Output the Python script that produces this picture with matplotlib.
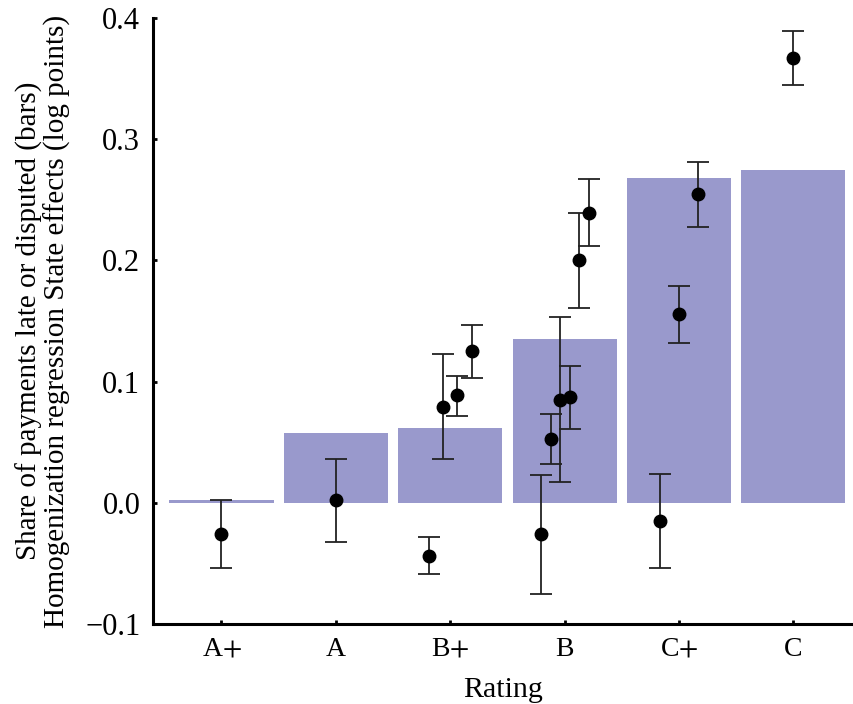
import matplotlib
matplotlib.use("Agg")
import matplotlib.pyplot as plt
import numpy as np

plt.rcParams['font.family'] = ['Liberation Serif', 'DejaVu Serif']
plt.rcParams['mathtext.fontset'] = 'stix'

ratings = ['A+', 'A', 'B+', 'B', 'C+', 'C']
bar_share = [0.002, 0.058, 0.062, 0.135, 0.268, 0.275]

# state effects: category index, offset within category, estimate, lower, upper
pt_cat = [0, 1, 2, 2, 2, 2, 3, 3, 3, 3, 3, 3, 4, 4, 4, 5]
pt_off = [0.0, 0.0,
          -0.19, -0.064, 0.061, 0.186,
          -0.207, -0.122, -0.041, 0.046, 0.128, 0.212,
          -0.166, 0.0, 0.166,
          0.0]
pt_est = [-0.026, 0.002,
          -0.044, 0.079, 0.089, 0.125,
          -0.026, 0.053, 0.085, 0.087, 0.200, 0.239,
          -0.015, 0.156, 0.2545,
          0.367]
pt_lo = [-0.054, -0.032,
         -0.059, 0.036, 0.072, 0.103,
         -0.075, 0.032, 0.017, 0.061, 0.161, 0.212,
         -0.054, 0.132, 0.2275,
         0.345]
pt_hi = [0.002, 0.036,
         -0.028, 0.123, 0.105, 0.147,
         0.023, 0.073, 0.153, 0.113, 0.239, 0.267,
         0.024, 0.179, 0.2816,
         0.389]

fig = plt.figure(figsize=(8.54, 7.04), dpi=100)
ax = fig.add_axes([0.179, 0.1136, 0.821, 0.8608])

xpos = np.arange(len(ratings))
ax.bar(xpos, bar_share, width=0.91, color='#9999cc', zorder=1)

px = np.array(pt_cat) + np.array(pt_off)
est = np.array(pt_est)
yerr = [est - np.array(pt_lo), np.array(pt_hi) - est]
ax.errorbar(px, est, yerr=yerr, fmt='o', color='black', ecolor='#222222',
            markersize=9, elinewidth=1.3, capsize=8, capthick=1.3, zorder=3)

ax.set_xlim(-0.6, 5.53)
ax.set_ylim(-0.1, 0.4)
ax.set_xticks(xpos)
# stix plus sign looks closer to the original than the text one
ax.set_xticklabels([r.replace('+', '$+$') for r in ratings])
ax.set_yticks([-0.1, 0.0, 0.1, 0.2, 0.3, 0.4])
ax.set_yticklabels(['\u22120.1', '0.0', '0.1', '0.2', '0.3', '0.4'])
ax.tick_params(direction='in', length=3, width=2, labelsize=22, pad=9)
ax.tick_params(axis='x', labelsize=20, pad=9)

for s in ['top', 'right']:
    ax.spines[s].set_visible(False)
for s in ['left', 'bottom']:
    ax.spines[s].set_linewidth(2.2)

ax.set_xlabel('Rating', fontsize=21.5, labelpad=11)
ax.set_ylabel('Share of payments late or disputed (bars)\nHomogenization regression State effects (log points)',
              fontsize=21, labelpad=10, linespacing=1.05)

plt.savefig('out.png', dpi=100)
